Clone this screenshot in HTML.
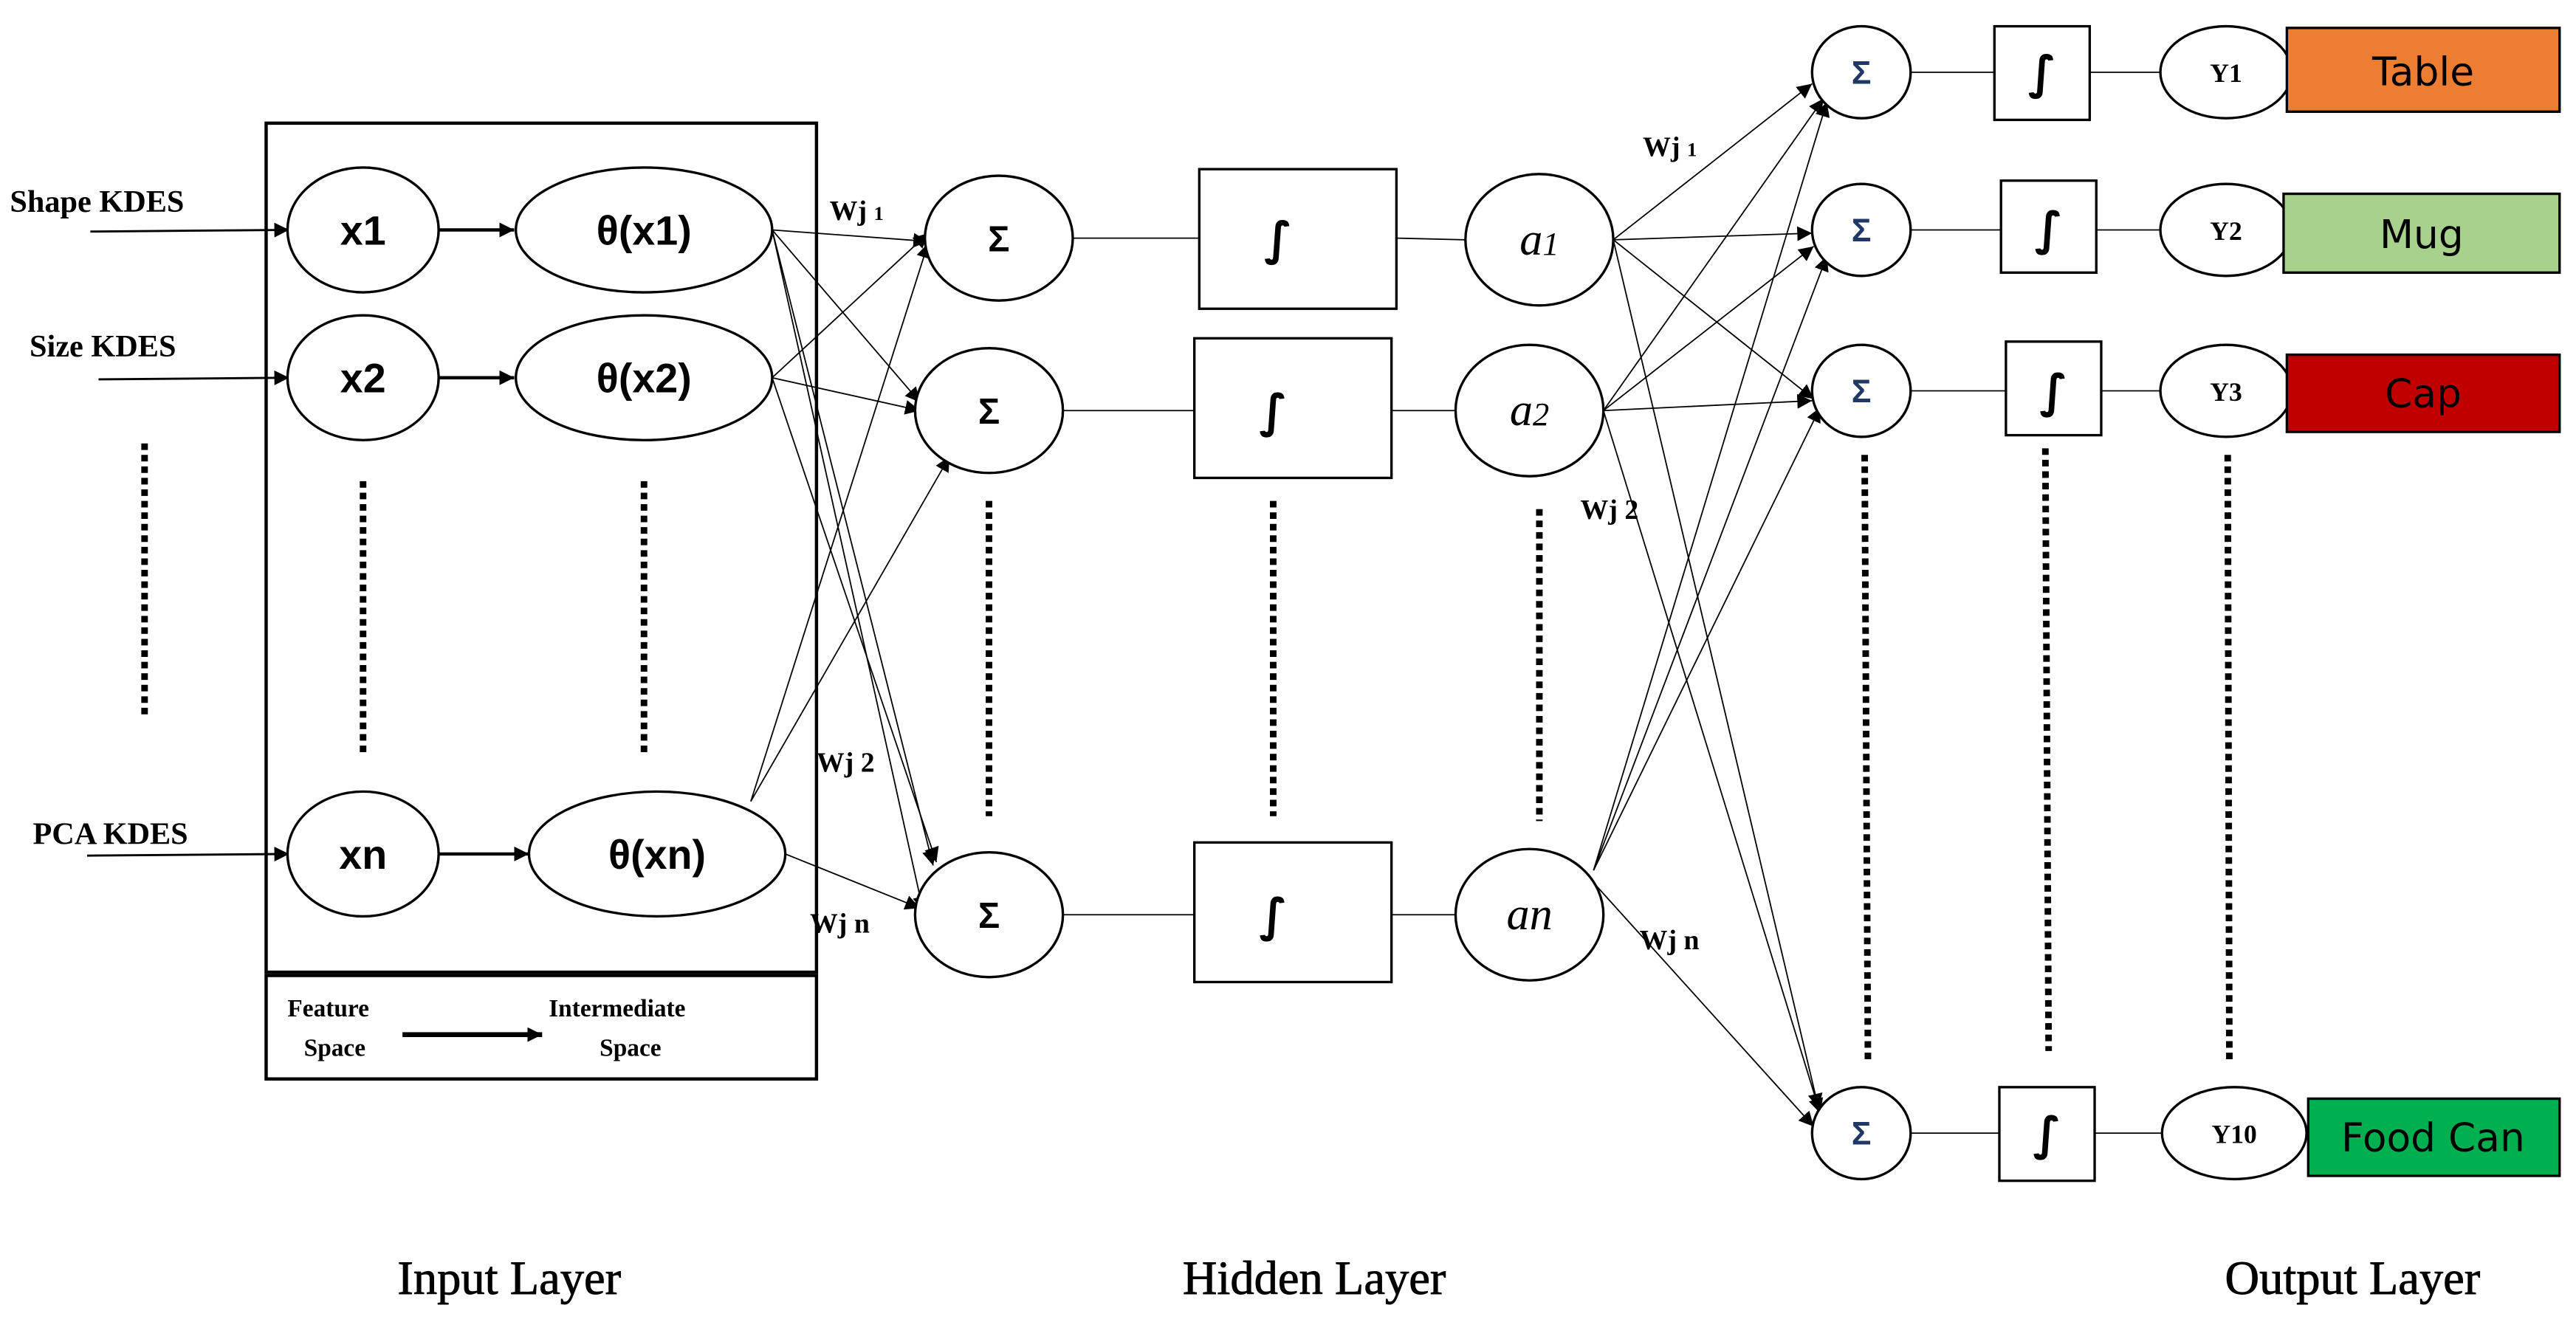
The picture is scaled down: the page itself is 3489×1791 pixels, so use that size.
<!DOCTYPE html>
<html><head><meta charset="utf-8"><style>html,body{margin:0;padding:0;background:#fff}svg{display:block}</style></head>
<body>
<svg width="3489" height="1791" viewBox="0 0 1568 805" preserveAspectRatio="none" xmlns="http://www.w3.org/2000/svg">
<defs>
<marker id="ar" viewBox="0 0 10 10" refX="10" refY="5" markerWidth="9" markerHeight="9" markerUnits="userSpaceOnUse" orient="auto"><path d="M0,0L10,5L0,10z" fill="#000"/></marker>
</defs>
<rect width="1568" height="805" fill="#fff"/>
<g fill="none" stroke="#000">
<rect x="162" y="75" width="335" height="517" stroke-width="2"/>
<rect x="162" y="594" width="335" height="63" stroke-width="2"/>
</g>
<g stroke="#000" stroke-width="1.3" marker-end="url(#ar)">
<line x1="55" y1="141" x2="176" y2="140"/>
<line x1="60" y1="231" x2="176" y2="230"/>
<line x1="53" y1="521" x2="176" y2="520"/>
<line x1="267" y1="140" x2="313" y2="140" stroke-width="2"/>
<line x1="267" y1="230" x2="313" y2="230" stroke-width="2"/>
<line x1="267" y1="520" x2="322" y2="520" stroke-width="2"/>
<line x1="245" y1="630" x2="330" y2="630" stroke-width="3"/>
</g>
<g stroke="#000" stroke-width="4" stroke-dasharray="4 3">
<line x1="88" y1="270" x2="88" y2="438"/>
<line x1="221" y1="293" x2="221" y2="460"/>
<line x1="392" y1="293" x2="392" y2="460"/>
<line x1="602" y1="305" x2="602" y2="497"/>
<line x1="775" y1="305" x2="775" y2="497"/>
<line x1="937" y1="310" x2="937" y2="500"/>
<line x1="1135" y1="277" x2="1137" y2="645"/>
<line x1="1245" y1="273" x2="1247" y2="640"/>
<line x1="1356" y1="277" x2="1357" y2="645"/>
</g>
<g stroke="#000" stroke-width="0.8" marker-end="url(#ar)">
<line x1="470" y1="140" x2="565" y2="147"/>
<line x1="470" y1="140" x2="560" y2="245"/>
<line x1="470" y1="140" x2="568" y2="527"/>
<line x1="470" y1="140" x2="562" y2="555"/>
<line x1="470" y1="230" x2="565" y2="142"/>
<line x1="470" y1="230" x2="560" y2="250"/>
<line x1="470" y1="230" x2="570" y2="525"/>
<line x1="457" y1="488" x2="565" y2="148"/>
<line x1="457" y1="488" x2="578" y2="278"/>
<line x1="478" y1="520" x2="560" y2="553"/>
</g>
<g stroke="#000" stroke-width="0.8" marker-end="url(#ar)">
<line x1="982" y1="146" x2="1103" y2="51"/>
<line x1="982" y1="146" x2="1103" y2="142"/>
<line x1="982" y1="146" x2="1104" y2="243"/>
<line x1="982" y1="146" x2="1107" y2="675"/>
<line x1="976" y1="250" x2="1110" y2="60"/>
<line x1="976" y1="250" x2="1104" y2="150"/>
<line x1="976" y1="250" x2="1103" y2="244"/>
<line x1="976" y1="250" x2="1108" y2="678"/>
<line x1="970" y1="530" x2="1112" y2="62"/>
<line x1="970" y1="530" x2="1112" y2="156"/>
<line x1="970" y1="530" x2="1108" y2="248"/>
<line x1="965" y1="532" x2="1104" y2="686"/>
</g>
<g stroke="#000" stroke-width="0.8">
<line x1="653" y1="145" x2="730" y2="145"/><line x1="850" y1="145" x2="892" y2="146"/>
<line x1="647" y1="250" x2="727" y2="250"/><line x1="847" y1="250" x2="886" y2="250"/>
<line x1="647" y1="557" x2="727" y2="557"/><line x1="847" y1="557" x2="886" y2="557"/>
<line x1="1163" y1="44" x2="1214" y2="44"/><line x1="1272" y1="44" x2="1315" y2="44"/>
<line x1="1163" y1="140" x2="1218" y2="140"/><line x1="1276" y1="140" x2="1315" y2="140"/>
<line x1="1163" y1="238" x2="1221" y2="238"/><line x1="1279" y1="238" x2="1315" y2="238"/>
<line x1="1163" y1="690" x2="1217" y2="690"/><line x1="1275" y1="690" x2="1316" y2="690"/>
</g>
<g fill="#fff" stroke="#000" stroke-width="1.5">
<ellipse cx="221" cy="140" rx="46" ry="38"/>
<ellipse cx="221" cy="230" rx="46" ry="38"/>
<ellipse cx="221" cy="520" rx="46" ry="38"/>
<ellipse cx="392" cy="140" rx="78" ry="38"/>
<ellipse cx="392" cy="230" rx="78" ry="38"/>
<ellipse cx="400" cy="520" rx="78" ry="38"/>
<ellipse cx="608" cy="145" rx="45" ry="38"/>
<ellipse cx="602" cy="250" rx="45" ry="38"/>
<ellipse cx="602" cy="557" rx="45" ry="38"/>
<rect x="730" y="103" width="120" height="85"/>
<rect x="727" y="206" width="120" height="85"/>
<rect x="727" y="513" width="120" height="85"/>
<ellipse cx="937" cy="146" rx="45" ry="40"/>
<ellipse cx="931" cy="250" rx="45" ry="40"/>
<ellipse cx="931" cy="557" rx="45" ry="40"/>
<ellipse cx="1133" cy="44" rx="30" ry="28"/>
<ellipse cx="1133" cy="140" rx="30" ry="28"/>
<ellipse cx="1133" cy="238" rx="30" ry="28"/>
<ellipse cx="1133" cy="690" rx="30" ry="28"/>
<rect x="1214" y="16" width="58" height="57"/>
<rect x="1218" y="110" width="58" height="56"/>
<rect x="1221" y="208" width="58" height="57"/>
<rect x="1217" y="662" width="58" height="57"/>
<ellipse cx="1355" cy="44" rx="40" ry="28"/>
<ellipse cx="1355" cy="140" rx="40" ry="28"/>
<ellipse cx="1355" cy="238" rx="40" ry="28"/>
<ellipse cx="1360" cy="690" rx="44" ry="28"/>
</g>
<g stroke="#000" stroke-width="1.5">
<rect x="1392" y="17" width="166" height="51" fill="#ED7D31"/>
<rect x="1390" y="118" width="168" height="48" fill="#A9D18E"/>
<rect x="1392" y="216" width="166" height="47" fill="#C00000"/>
<rect x="1405" y="669" width="153" height="47" fill="#00B050"/>
</g>
<g font-family="Liberation Serif, serif" font-weight="bold" fill="#000">
<text x="6" y="129" font-size="19">Shape KDES</text>
<text x="18" y="217" font-size="19">Size KDES</text>
<text x="20" y="514" font-size="19">PCA KDES</text>
<text x="175" y="619" font-size="15">Feature</text>
<text x="185" y="643" font-size="15">Space</text>
<text x="334" y="619" font-size="15">Intermediate</text>
<text x="365" y="643" font-size="15">Space</text>
<text x="505" y="134" font-size="17">Wj <tspan font-size="12">1</tspan></text>
<text x="497" y="470" font-size="17">Wj 2</text>
<text x="493" y="568" font-size="17">Wj n</text>
<text x="1000" y="95" font-size="17">Wj <tspan font-size="12">1</tspan></text>
<text x="962" y="316" font-size="17">Wj 2</text>
<text x="998" y="578" font-size="17">Wj n</text>
<text x="1355" y="50" font-size="16" text-anchor="middle">Y1</text>
<text x="1355" y="146" font-size="16" text-anchor="middle">Y2</text>
<text x="1355" y="244" font-size="16" text-anchor="middle">Y3</text>
<text x="1360" y="696" font-size="16" text-anchor="middle">Y10</text>
<text x="310" y="788" font-size="29" font-weight="normal" text-anchor="middle" stroke="#000" stroke-width="0.4">Input Layer</text>
<text x="800" y="788" font-size="29" font-weight="normal" text-anchor="middle" stroke="#000" stroke-width="0.4">Hidden Layer</text>
<text x="1432" y="788" font-size="29" font-weight="normal" text-anchor="middle" stroke="#000" stroke-width="0.4">Output Layer</text>
</g>
<g font-family="Liberation Sans, sans-serif" font-weight="bold" fill="#000" text-anchor="middle">
<text x="221" y="149" font-size="25">x1</text>
<text x="221" y="239" font-size="25">x2</text>
<text x="221" y="529" font-size="25">xn</text>
<text x="392" y="149" font-size="25">θ(x1)</text>
<text x="392" y="239" font-size="25">θ(x2)</text>
<text x="400" y="529" font-size="25">θ(xn)</text>
<text x="608" y="153" font-size="22">Σ</text>
<text x="602" y="258" font-size="22">Σ</text>
<text x="602" y="565" font-size="22">Σ</text>
<text x="1133" y="51" font-size="20" fill="#1F3864">Σ</text>
<text x="1133" y="147" font-size="20" fill="#1F3864">Σ</text>
<text x="1133" y="245" font-size="20" fill="#1F3864">Σ</text>
<text x="1133" y="697" font-size="20" fill="#1F3864">Σ</text>
</g>
<g font-family="DejaVu Sans, sans-serif" font-weight="bold" fill="#000" text-anchor="middle" font-size="28">
<text x="778" y="155">∫</text><text x="775" y="260">∫</text><text x="775" y="567">∫</text>
<text x="1243" y="54">∫</text><text x="1247" y="149">∫</text><text x="1250" y="248">∫</text><text x="1246" y="700">∫</text>
</g>
<g font-family="Liberation Serif, serif" font-style="italic" fill="#000" text-anchor="middle" font-size="28">
<text x="937" y="155">a<tspan font-size="20">1</tspan></text>
<text x="931" y="259">a<tspan font-size="20">2</tspan></text>
<text x="931" y="566">an</text>
</g>
<g font-family="DejaVu Sans, sans-serif" fill="#000" text-anchor="middle" font-size="24">
<text x="1475" y="52">Table</text>
<text x="1474" y="151">Mug</text>
<text x="1475" y="248">Cap</text>
<text x="1481" y="701">Food Can</text>
</g>
</svg>
</body></html>
